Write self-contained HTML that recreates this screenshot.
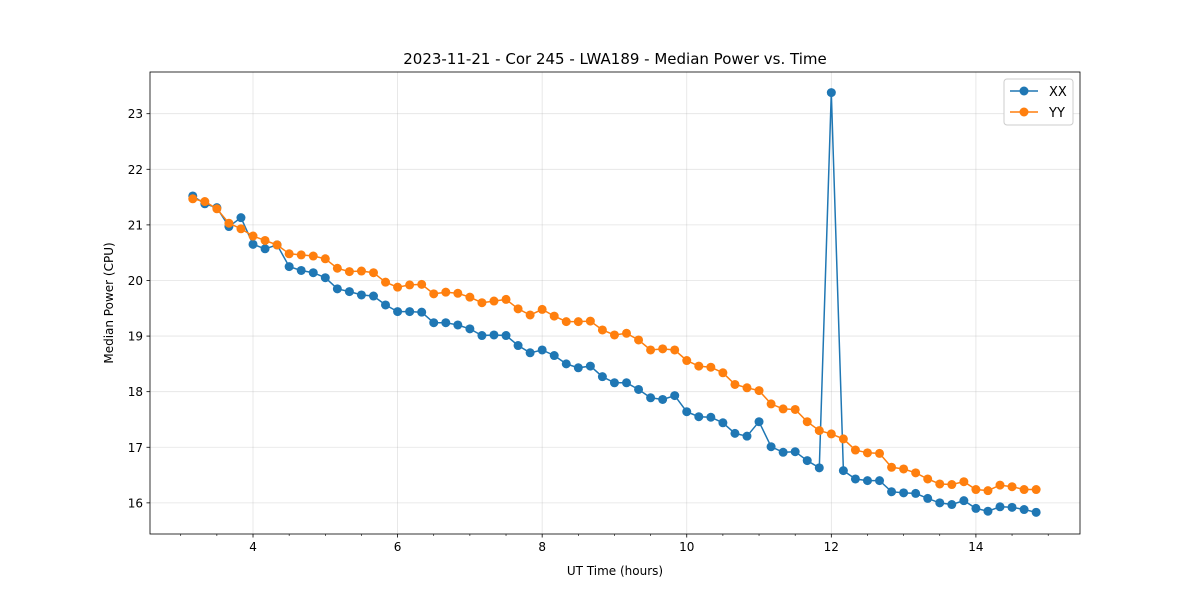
<!DOCTYPE html>
<html><head><meta charset="utf-8"><style>
body{margin:0;background:#fff;font-family:"Liberation Sans","DejaVu Sans",sans-serif;}
svg text{font-family:"DejaVu Sans","Liberation Sans",sans-serif;}
</style></head><body>
<svg id="chart" width="1200" height="600" xmlns="http://www.w3.org/2000/svg">
<rect width="1200" height="600" fill="#fff"/>
<g id="grid"></g>
<g id="axes"></g>
<g id="series"></g>
<text x="615" y="64" font-size="15" text-anchor="middle">2023-11-21 - Cor 245 - LWA189 - Median Power vs. Time</text>
<text x="615" y="575" font-size="12" text-anchor="middle">UT Time (hours)</text>
<text transform="translate(113,303) rotate(-90)" font-size="12" text-anchor="middle">Median Power (CPU)</text>
<g>
<rect x="1004" y="79" width="69" height="46" rx="3" fill="#fff" stroke="#ccc"/>
<g><line x1="1010" y1="91" x2="1038" y2="91" stroke="#1f77b4" stroke-width="1.5"/><circle cx="1024" cy="91" r="4.5" fill="#1f77b4"/><text x="1049" y="96" font-size="13">XX</text></g>
<g><line x1="1010" y1="112" x2="1038" y2="112" stroke="#ff7f0e" stroke-width="1.5"/><circle cx="1024" cy="112" r="4.5" fill="#ff7f0e"/><text x="1049" y="117" font-size="13">YY</text></g>
</g>
</svg>
<script>
const xStart = 3.1667, xStep = 1/6;
const xxValues = [21.52,21.38,21.31,20.97,21.13,20.65,20.57,20.64,20.25,20.18,20.14,20.05,19.85,19.80,19.74,19.72,19.56,19.44,19.44,19.43,19.24,19.24,19.20,19.13,19.01,19.02,19.01,18.83,18.70,18.75,18.65,18.50,18.43,18.46,18.27,18.16,18.16,18.04,17.89,17.86,17.93,17.64,17.55,17.54,17.44,17.25,17.20,17.46,17.01,16.91,16.92,16.76,16.63,23.38,16.58,16.43,16.40,16.40,16.20,16.18,16.17,16.08,16.00,15.97,16.04,15.90,15.85,15.93,15.92,15.88,15.83];
const yyValues = [21.47,21.42,21.29,21.03,20.93,20.80,20.72,20.64,20.48,20.46,20.44,20.39,20.22,20.16,20.17,20.14,19.97,19.88,19.92,19.93,19.76,19.79,19.77,19.70,19.60,19.63,19.66,19.49,19.38,19.48,19.36,19.26,19.26,19.27,19.11,19.02,19.05,18.93,18.75,18.77,18.75,18.56,18.46,18.44,18.34,18.13,18.07,18.02,17.78,17.69,17.68,17.46,17.30,17.24,17.15,16.95,16.90,16.89,16.64,16.61,16.54,16.43,16.34,16.33,16.38,16.24,16.22,16.32,16.29,16.24,16.24];
const xTicks = [4,6,8,10,12,14];
const yTicks = [16,17,18,19,20,21,22,23];
const L=150,R=1080,T=72,B=534;
const xMin=2.575,xMax=15.44,yMin=15.44,yMax=23.75;
const X=v=>L+(v-xMin)/(xMax-xMin)*(R-L);
const Y=v=>B-(v-yMin)/(yMax-yMin)*(B-T);
const NS="http://www.w3.org/2000/svg";
function mk(tag,attrs,parent){const e=document.createElementNS(NS,tag);for(const k in attrs)e.setAttribute(k,attrs[k]);parent.appendChild(e);return e;}
const grid=document.getElementById('grid'),axes=document.getElementById('axes'),series=document.getElementById('series');
xTicks.forEach(t=>{const x=X(t);
 const g=mk('line',{x1:x,x2:x,y1:T,y2:B,stroke:'#b0b0b0','stroke-opacity':0.35,'stroke-width':0.8},grid);
 
 mk('line',{x1:x,x2:x,y1:B,y2:B+3.5,stroke:'#000','stroke-width':0.8},axes);
 const tx=mk('text',{x:x,y:B+17,'font-size':12,'text-anchor':'middle'},axes);tx.textContent=t;
 
});
for(let m=3;m<=15;m+=0.5){if(m%2===0)continue;const x=X(m);mk('line',{x1:x,x2:x,y1:B,y2:B+2,stroke:'#000','stroke-width':0.6},axes);}
yTicks.forEach(t=>{const y=Y(t);
 const g=mk('line',{x1:L,x2:R,y1:y,y2:y,stroke:'#b0b0b0','stroke-opacity':0.35,'stroke-width':0.8},grid);
 
 mk('line',{x1:L-3.5,x2:L,y1:y,y2:y,stroke:'#000','stroke-width':0.8},axes);
 const tx=mk('text',{x:L-7,y:y+4.5,'font-size':12,'text-anchor':'end'},axes);tx.textContent=t;
 
});
const frame=mk('rect',{x:L,y:T,width:R-L,height:B-T,fill:'none',stroke:'#000','stroke-width':0.8},axes);

function draw(vals,color,name){
 const pts=vals.map((v,i)=>X(xStart+i*xStep).toFixed(1)+','+Y(v).toFixed(1)).join(' ');
 const pl=mk('polyline',{points:pts,fill:'none',stroke:color,'stroke-width':1.5},series);
 
 vals.forEach((v,i)=>{const c=mk('circle',{cx:X(xStart+i*xStep),cy:Y(v),r:4.5,fill:color},series);
  });
}
draw(xxValues,'#1f77b4','xx');
draw(yyValues,'#ff7f0e','yy');
</script>
</body></html>
